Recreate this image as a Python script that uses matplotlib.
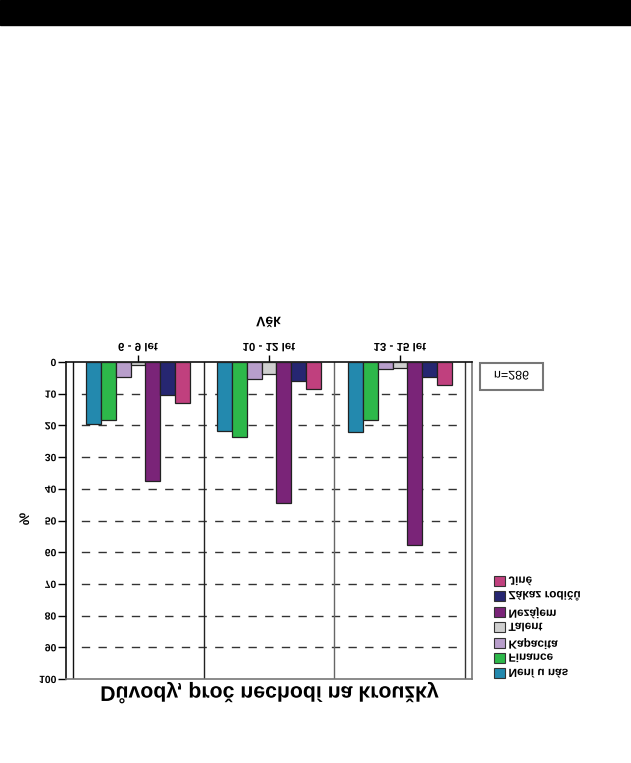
import matplotlib
matplotlib.use('Agg')
import matplotlib.pyplot as plt
import numpy as np
from matplotlib.patheffects import AbstractPathEffect
from matplotlib.transforms import Affine2D
from matplotlib.patches import Rectangle

plt.rcParams['font.family'] = ['Liberation Sans', 'DejaVu Sans']


# texty jsou v predloze prevracene svisle -> preklopime kazdy text kolem jeho stredu
class FlipV(AbstractPathEffect):
    def draw_path(self, renderer, gc, tpath, affine, rgbFace=None):
        ext = tpath.get_extents(affine)
        yc = (ext.y0 + ext.y1) / 2
        flip = Affine2D().translate(0, -yc).scale(1, -1).translate(0, yc)
        renderer.draw_path(gc, tpath, affine + flip, rgbFace)


W, H = 631, 763

# data
groups = ['6 - 9 let', '10 - 12 let', '13 - 15 let']
reasons = ['Není u nás', 'Finance', 'Kapacita', 'Talent', 'Nezájem', 'Zákaz rodičů', 'Jiné']
colors = ['#2389ae', '#2db84a', '#b89ecb', '#cfcfcf', '#7a2478', '#262671', '#c0407e']
neni = [19.6, 21.8, 22.2]
finance = [18.2, 23.8, 18.3]
kapacita = [4.8, 5.3, 2.3]
talent = [1.0, 3.9, 1.9]
nezajem = [37.4, 44.6, 57.8]
zakaz = [10.5, 5.9, 4.6]
jine = [12.9, 8.4, 7.3]
series = [neni, finance, kapacita, talent, nezajem, zakaz, jine]
yticks = list(range(0, 101, 10))

fig = plt.figure(figsize=(W / 100, H / 100), dpi=100)
ax = fig.add_axes([66 / W, 1 - 679 / H, 406 / W, 317 / H])

x = np.arange(len(groups))
bw = 0.113
for i, (vals, c) in enumerate(zip(series, colors)):
    ax.bar(x + (i - 3) * bw, vals, bw, color=c, edgecolor='#222222', linewidth=0.9, zorder=3)

ax.set_xlim(-0.55, 2.55)
ax.set_ylim(100, 0)

# mrizka a svisle deleni skupin
ax.hlines(yticks[1:-1], -0.5, 2.5, colors='#333333', linewidth=1,
          linestyles=(6, (6, 6)), zorder=1)
for xv, col in zip([-0.5, 0.5, 1.5, 2.5], ['#111111', '#222222', '#666666', '#333333']):
    ax.axvline(xv, color=col, linewidth=1, zorder=2)

for s in ['left', 'top']:
    ax.spines[s].set_color('#111111')
for s in ['right', 'bottom']:
    ax.spines[s].set_color('#777777')
for s in ax.spines.values():
    s.set_linewidth(1.2)

ax.set_yticks(yticks)
ax.tick_params(axis='y', direction='out', length=5.8, width=1, pad=1.2, labelsize=7.5)
ax.xaxis.tick_top()
ax.set_xticks(x)
ax.set_xticklabels(groups)
ax.tick_params(axis='x', direction='out', length=5, width=1, pad=0.6, labelsize=8.3)
for lbl in ax.get_yticklabels() + ax.get_xticklabels():
    lbl.set_fontweight('bold')
    lbl.set_path_effects([FlipV()])

fe = [FlipV()]
fig.text(268.5 / W, 1 - 323 / H, 'Věk', ha='center', va='center', fontsize=10,
         fontweight='bold', path_effects=fe)
fig.text(270 / W, 1 - 693 / H, 'Důvody, proč nechodí na kroužky', ha='center', va='center',
         fontsize=15.3, fontweight='bold', path_effects=fe)
fig.text(25 / W, 1 - 519 / H, '%', ha='center', va='center', fontsize=10,
         fontweight='bold', rotation=90, path_effects=fe)

# cerny pruh nahore
fig.add_artist(Rectangle((0, 1 - 25 / H), 1, 25 / H, transform=fig.transFigure,
                         color='black', zorder=0))

# ramecek s poctem respondentu
fig.add_artist(Rectangle((480 / W, 1 - 390 / H), 63 / W, 27 / H, transform=fig.transFigure,
                         fill=False, edgecolor='#777777', linewidth=1.5))
fig.text(511.5 / W, 1 - 376.5 / H, 'n=286', ha='center', va='center', fontsize=9,
         path_effects=fe)

handles = [Rectangle((0, 0), 1, 1, facecolor=c, edgecolor='#333333', linewidth=0.8)
           for c in colors]
leg = fig.legend(handles[::-1], reasons[::-1], loc='upper left',
                 bbox_to_anchor=(494 / W, 1 - 576 / H), frameon=False, borderpad=0,
                 borderaxespad=0, handlelength=0.93, handleheight=0.93, handletextpad=0.3,
                 labelspacing=0.28, prop={'weight': 'bold', 'size': 8.5})
for t in leg.get_texts():
    t.set_path_effects([FlipV()])

fig.savefig('out.png', dpi=100)
